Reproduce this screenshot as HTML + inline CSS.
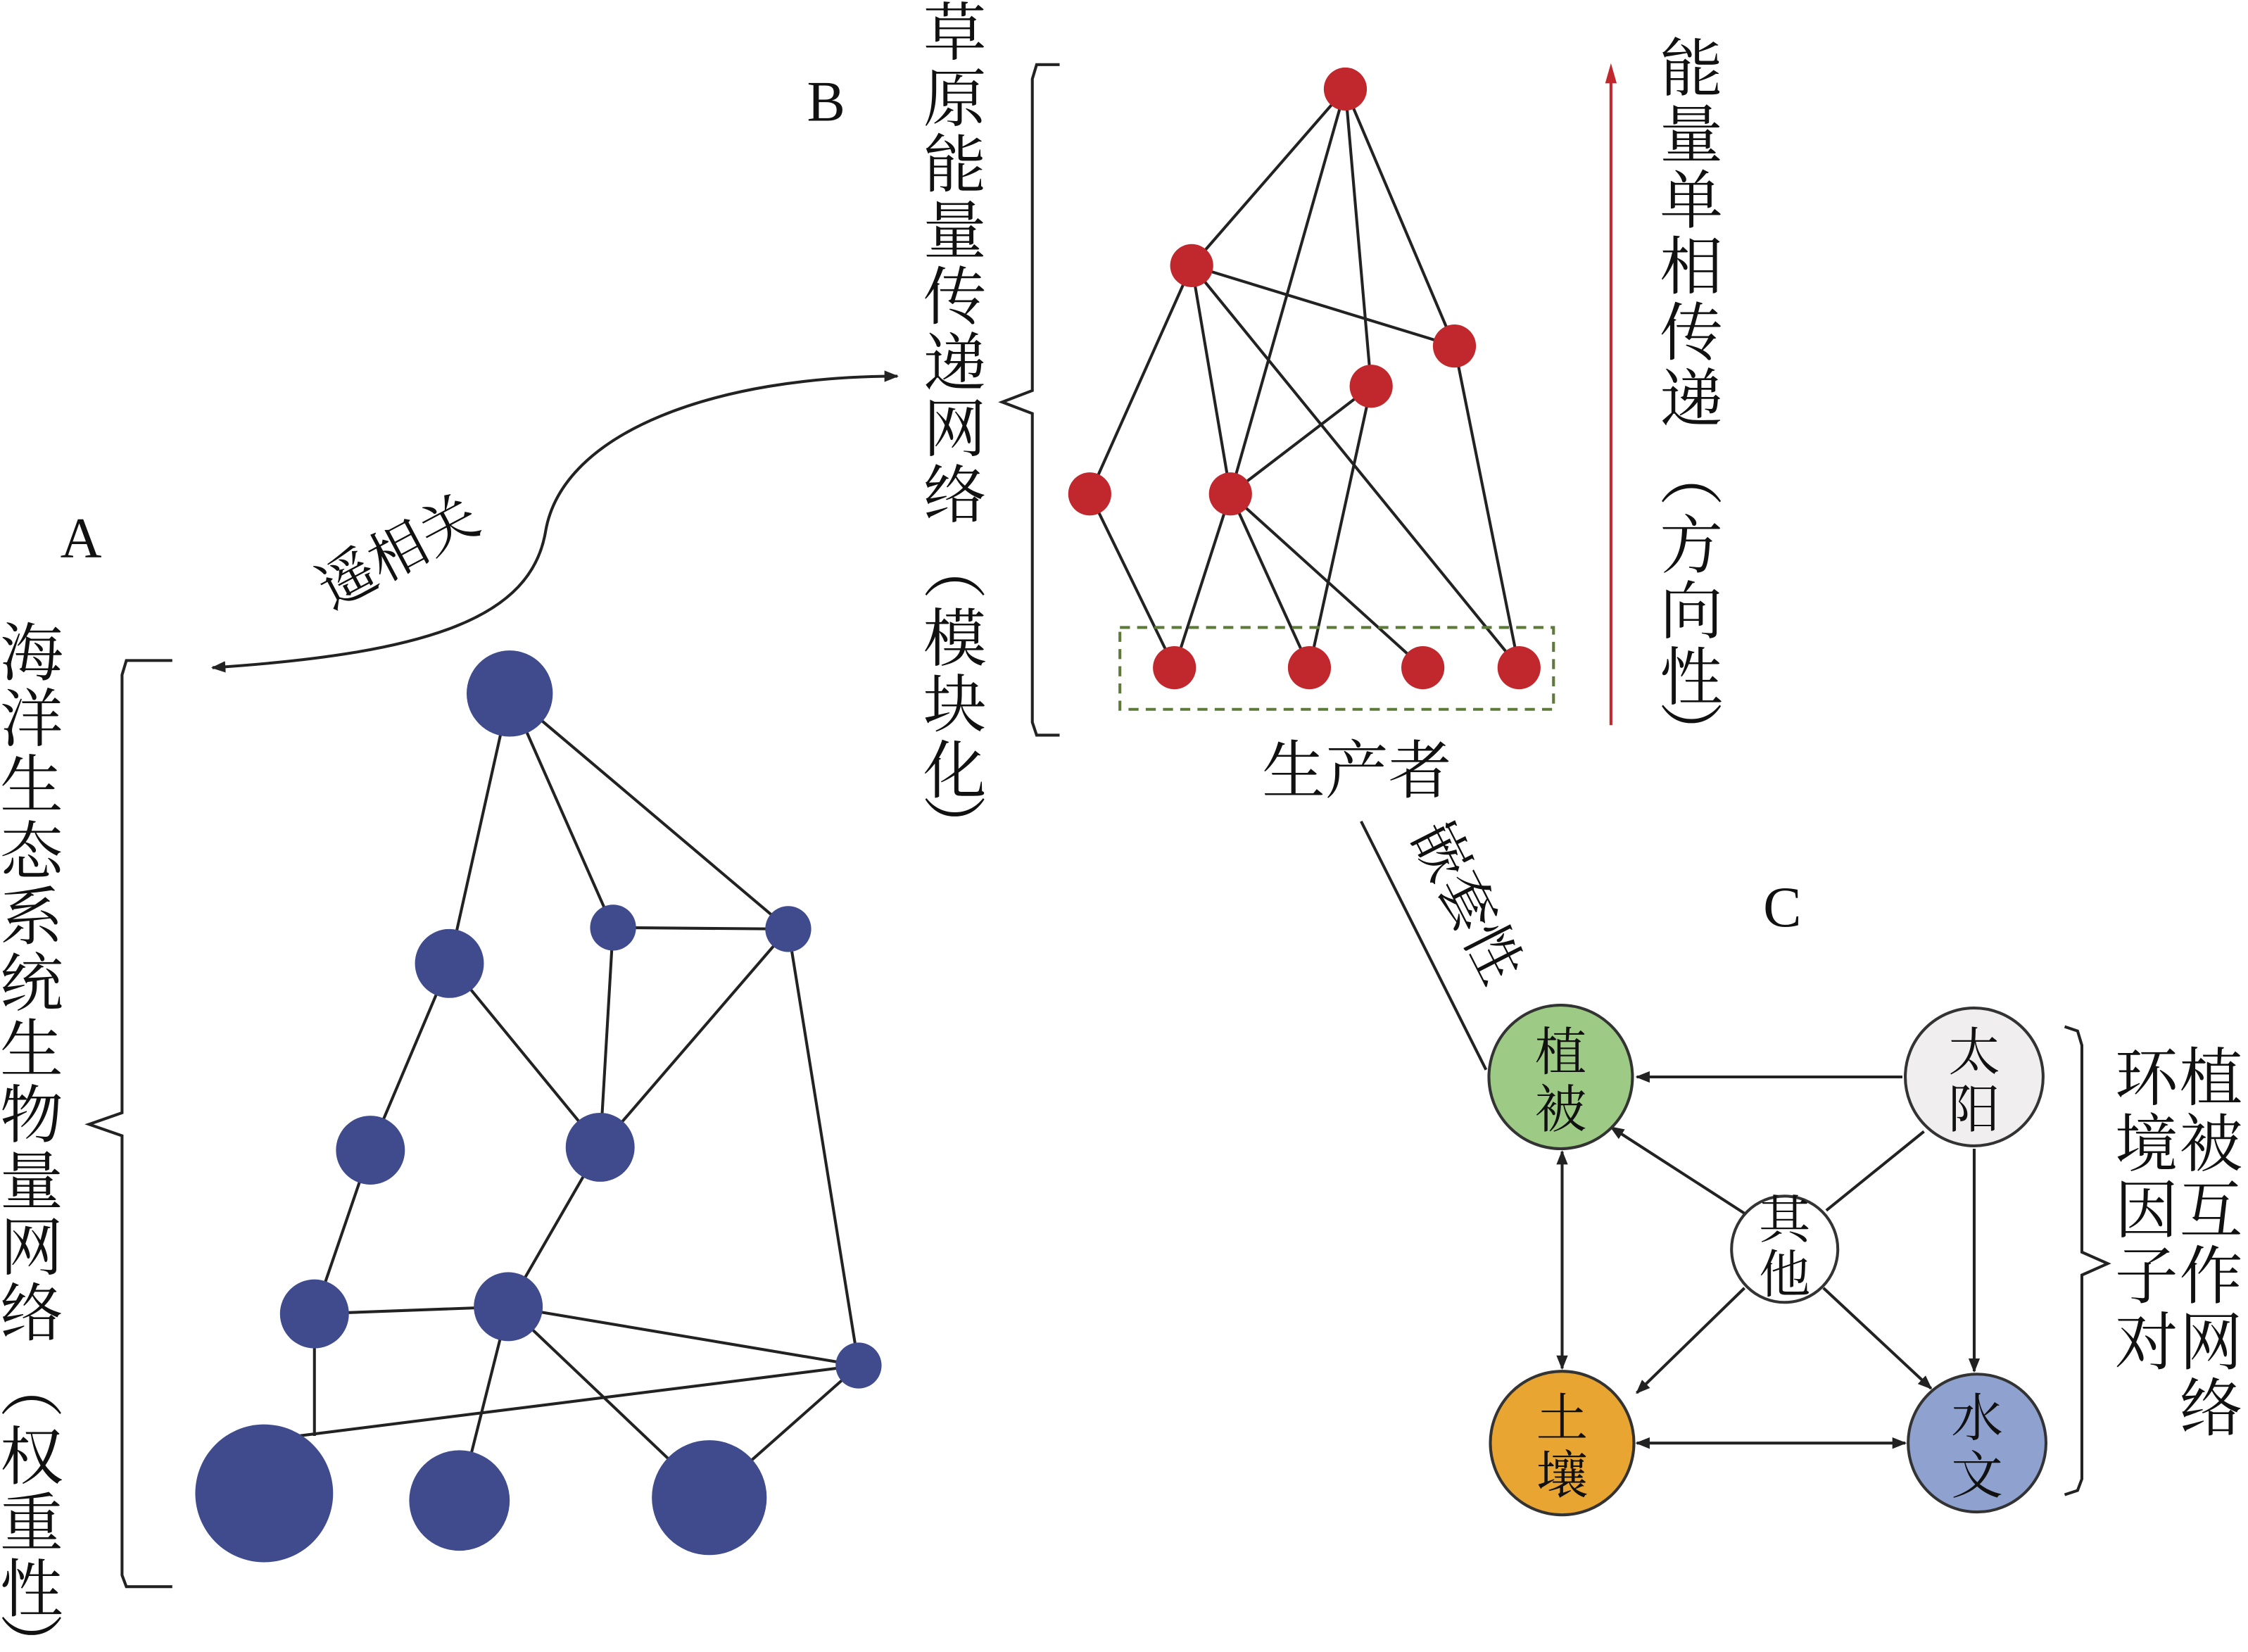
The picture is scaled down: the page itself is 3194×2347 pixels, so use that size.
<!DOCTYPE html>
<html><head><meta charset="utf-8"><style>
html,body{margin:0;padding:0;background:#fff}
svg{display:block}
text{font-family:"Liberation Serif","Noto Serif CJK SC","Noto Sans CJK SC",serif;fill:#111}
</style></head><body>
<svg width="3194" height="2347" viewBox="0 0 1565.7 1150.5" preserveAspectRatio="none" xmlns="http://www.w3.org/2000/svg">
<defs>
<marker id="ar" markerWidth="10" markerHeight="10" refX="9" refY="5" orient="auto" markerUnits="userSpaceOnUse"><path d="M0,1 L10,5 L0,9 Z" fill="#222"/></marker>
<marker id="as" markerWidth="10" markerHeight="10" refX="1" refY="5" orient="auto" markerUnits="userSpaceOnUse"><path d="M10,1 L0,5 L10,9 Z" fill="#222"/></marker>
</defs>
<!-- A -->
<text x="42" y="388" font-size="40">A</text>
<g font-size="44" text-anchor="middle">
<text x="22" y="470">海</text><text x="22" y="516">洋</text><text x="22" y="562">生</text><text x="22" y="608">态</text><text x="22" y="654">系</text><text x="22" y="700">统</text><text x="22" y="746">生</text><text x="22" y="792">物</text><text x="22" y="838">量</text><text x="22" y="884">网</text><text x="22" y="930">络</text><text x="22" y="982">︵</text><text x="22" y="1030">权</text><text x="22" y="1076">重</text><text x="22" y="1122">性</text><text x="22" y="1162">︶</text>
</g>
<path d="M120,460 L88,460 L85,470 L85,775 L62,783 L85,791 L85,1097 L88,1105 L120,1105" fill="none" stroke="#222" stroke-width="2"/>
<text x="278" y="398" font-size="40" text-anchor="middle" transform="rotate(-28 278 386)">遥相关</text>
<path d="M148,465 C300,455 370,430 380,370 C392,300 500,262 625,262" fill="none" stroke="#222" stroke-width="2" marker-start="url(#as)" marker-end="url(#ar)"/>
<g stroke="#222" stroke-width="2">
<line x1="355" y1="483" x2="313" y2="671"/><line x1="355" y1="483" x2="427" y2="646"/><line x1="355" y1="483" x2="549" y2="647"/>
<line x1="427" y1="646" x2="549" y2="647"/><line x1="427" y1="646" x2="418" y2="799"/><line x1="313" y1="671" x2="418" y2="799"/>
<line x1="313" y1="671" x2="258" y2="801"/><line x1="258" y1="801" x2="219" y2="915"/><line x1="549" y1="647" x2="418" y2="799"/>
<line x1="549" y1="647" x2="598" y2="951"/><line x1="418" y1="799" x2="354" y2="910"/><line x1="219" y1="915" x2="354" y2="910"/>
<line x1="354" y1="910" x2="598" y2="951"/><line x1="184" y1="1003" x2="598" y2="951"/><line x1="219" y1="915" x2="219" y2="1000"/>
<line x1="354" y1="910" x2="320" y2="1045"/><line x1="354" y1="910" x2="494" y2="1043"/><line x1="494" y1="1043" x2="598" y2="951"/>
</g>
<g fill="#3f4b8c">
<circle cx="355" cy="483" r="30"/><circle cx="313" cy="671" r="24"/><circle cx="427" cy="646" r="16"/><circle cx="549" cy="647" r="16"/>
<circle cx="258" cy="801" r="24"/><circle cx="418" cy="799" r="24"/><circle cx="219" cy="915" r="24"/><circle cx="354" cy="910" r="24"/>
<circle cx="598" cy="951" r="16"/><circle cx="184" cy="1040" r="48"/><circle cx="320" cy="1045" r="35"/><circle cx="494" cy="1043" r="40"/>
</g>
<!-- B -->
<text x="562" y="84" font-size="40">B</text>
<g font-size="44" text-anchor="middle">
<text x="665" y="38">草</text><text x="665" y="84">原</text><text x="665" y="130">能</text><text x="665" y="176">量</text><text x="665" y="222">传</text><text x="665" y="268">递</text><text x="665" y="314">网</text><text x="665" y="360">络</text><text x="665" y="412">︵</text><text x="665" y="460">模</text><text x="665" y="506">块</text><text x="665" y="552">化</text><text x="665" y="592">︶</text>
</g>
<path d="M738,45 L722,45 L719,55 L719,272 L698,280 L719,288 L719,503 L722,512 L738,512" fill="none" stroke="#222" stroke-width="2"/>
<g stroke="#222" stroke-width="2">
<line x1="937" y1="62" x2="830" y2="185"/><line x1="937" y1="62" x2="857" y2="344"/><line x1="937" y1="62" x2="955" y2="269"/><line x1="937" y1="62" x2="1013" y2="241"/>
<line x1="830" y1="185" x2="1013" y2="241"/><line x1="830" y1="185" x2="759" y2="344"/><line x1="830" y1="185" x2="857" y2="344"/><line x1="830" y1="185" x2="1058" y2="465"/>
<line x1="955" y1="269" x2="857" y2="344"/><line x1="955" y1="269" x2="912" y2="465"/><line x1="1013" y1="241" x2="1058" y2="465"/>
<line x1="857" y1="344" x2="818" y2="465"/><line x1="857" y1="344" x2="912" y2="465"/><line x1="857" y1="344" x2="991" y2="465"/><line x1="759" y1="344" x2="818" y2="465"/>
</g>
<rect x="780" y="437" width="302" height="57" fill="none" stroke="#5e7a3a" stroke-width="2" stroke-dasharray="7,5"/>
<g fill="#c0282d">
<circle cx="937" cy="62" r="15"/><circle cx="830" cy="185" r="15"/><circle cx="1013" cy="241" r="15"/><circle cx="955" cy="269" r="15"/>
<circle cx="759" cy="344" r="15"/><circle cx="857" cy="344" r="15"/><circle cx="818" cy="465" r="15"/><circle cx="912" cy="465" r="15"/>
<circle cx="991" cy="465" r="15"/><circle cx="1058" cy="465" r="15"/>
</g>
<text x="945" y="552" font-size="44" text-anchor="middle">生产者</text>
<line x1="1122" y1="505" x2="1122" y2="55" stroke="#c0282d" stroke-width="2"/>
<path d="M1118,58 L1122,44 L1126,58 Z" fill="#c0282d"/>
<g font-size="44" text-anchor="middle">
<text x="1178" y="63">能</text><text x="1178" y="109">量</text><text x="1178" y="155">单</text><text x="1178" y="201">相</text><text x="1178" y="247">传</text><text x="1178" y="293">递</text><text x="1178" y="347">︵</text><text x="1178" y="395">方</text><text x="1178" y="441">向</text><text x="1178" y="487">性</text><text x="1178" y="527">︶</text>
</g>
<!-- nested -->
<line x1="948" y1="572" x2="1035" y2="745" stroke="#222" stroke-width="2"/>
<text x="1022" y="642" font-size="40" text-anchor="middle" transform="rotate(63 1022 628)">嵌套性</text>
<!-- C -->
<text x="1228" y="645" font-size="40">C</text>
<g stroke="#222" stroke-width="2" fill="none">
<line x1="1325" y1="750" x2="1140" y2="750" marker-end="url(#ar)"/>
<line x1="1375" y1="800" x2="1375" y2="955" marker-end="url(#ar)"/>
<line x1="1215" y1="845" x2="1122" y2="785" marker-end="url(#ar)"/>
<line x1="1272" y1="843" x2="1340" y2="788"/>
<line x1="1215" y1="897" x2="1140" y2="970" marker-end="url(#ar)"/>
<line x1="1270" y1="897" x2="1345" y2="967" marker-end="url(#ar)"/>
<line x1="1088" y1="802" x2="1088" y2="953" marker-start="url(#as)" marker-end="url(#ar)"/>
<line x1="1140" y1="1005" x2="1327" y2="1005" marker-start="url(#as)" marker-end="url(#ar)"/>
</g>
<g stroke="#333" stroke-width="2">
<circle cx="1087" cy="750" r="50" fill="#9dcb85"/>
<circle cx="1375" cy="750" r="48" fill="#f0eeee"/>
<circle cx="1243" cy="870" r="37" fill="#fff"/>
<circle cx="1088" cy="1005" r="50" fill="#e8a532"/>
<circle cx="1377" cy="1005" r="48" fill="#8fa2cf"/>
</g>
<g font-size="36" text-anchor="middle">
<text x="1087" y="745">植</text><text x="1087" y="785">被</text>
<text x="1375" y="745">太</text><text x="1375" y="785">阳</text>
<text x="1243" y="862">其</text><text x="1243" y="900">他</text>
<text x="1088" y="1000">土</text><text x="1088" y="1040">壤</text>
<text x="1377" y="1000">水</text><text x="1377" y="1040">文</text>
</g>
<path d="M1438,715 L1447,718 L1450,728 L1450,872 L1468,880 L1450,888 L1450,1030 L1447,1038 L1438,1041" fill="none" stroke="#222" stroke-width="2"/>
<g font-size="44" text-anchor="middle">
<text x="1540" y="766">植</text><text x="1540" y="812">被</text><text x="1540" y="858">互</text><text x="1540" y="904">作</text><text x="1540" y="950">网</text><text x="1540" y="996">络</text>
<text x="1495" y="766">环</text><text x="1495" y="812">境</text><text x="1495" y="858">因</text><text x="1495" y="904">子</text><text x="1495" y="950">对</text>
</g>
</svg>
</body></html>
